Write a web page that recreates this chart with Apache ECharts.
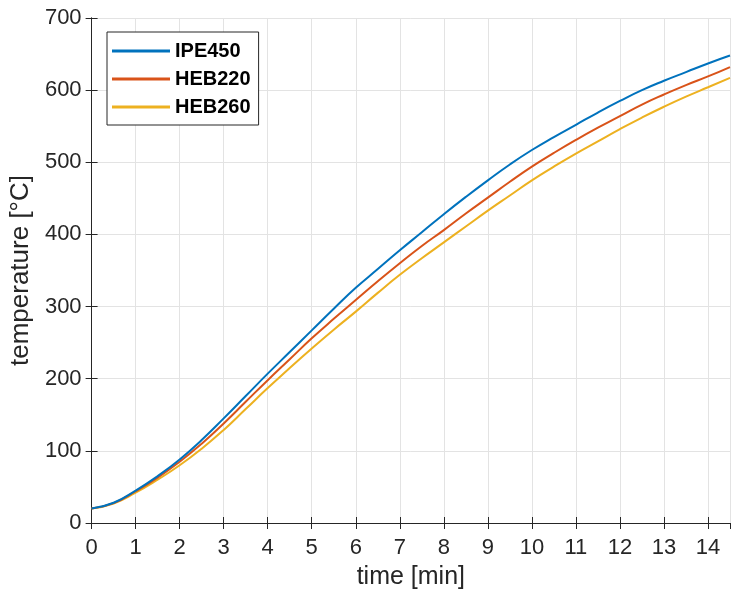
<!DOCTYPE html>
<html>
<head>
<meta charset="utf-8">
<script src="https://cdn.jsdelivr.net/npm/echarts@6/dist/echarts.min.js"></script>
<style>
html,body{margin:0;padding:0;background:#fff;}
#c{width:731px;height:595px;}
</style>
</head>
<body>
<div id="c"></div>
<script>
var times = [0,0.5,1,1.5,2,2.5,3,3.5,4,4.5,5,5.5,6,6.5,7,7.5,8,8.5,9,9.5,10,10.5,11,11.5,12,12.5,13,13.5,14,14.5];
var ipe450 = [20,28,45,65,88,115,145,176,207,237,267,297,326,352,378,403,428,452,475,497,517,535,552,569,585,600,613,625,637,648];
var heb220 = [20,27.5,44,63,85,110,138,168,198,227,256,283,309,335,360,384,406,429,451,473,494,513,531,548,564,580,594,607,619,632];
var heb260 = [20,27,42,60,80,103,129,158,187,215,242,268,293,319,344,367,389,411,433,454,475,494,512,529,546,562,577,591,604,617];
var seriesNames = ['IPE450','HEB220','HEB260'];
var seriesColors = ['#0072BD','#D95319','#EDB120'];

function pairs(v){ return times.map(function(t,i){ return [t, v[i]]; }); }

var txt = '#262626';
var font = '"Liberation Sans", Arial, sans-serif';
var chart = echarts.init(document.getElementById('c'), null, {renderer:'canvas'});
var axisLine = {show:true, lineStyle:{color:txt, width:1}};
var axisTick = {show:true, inside:true, length:6, lineStyle:{color:txt}};
chart.setOption({
  animation:false,
  backgroundColor:'#fff',
  grid:{left:90, top:18, right:1, bottom:72, containLabel:false},
  legend:{
    orient:'vertical', left:107, top:32,
    data:seriesNames,
    backgroundColor:'#fff', borderColor:txt, borderWidth:1, borderRadius:0,
    padding:[9,8,8,5], itemGap:8, itemWidth:58, itemHeight:3, icon:'rect',
    textStyle:{fontFamily:font, fontSize:20, fontWeight:'bold', color:'#000', lineHeight:20}
  },
  xAxis:[{
    type:'value', min:0, max:14.5, interval:1,
    name:'time [min]', nameLocation:'middle', nameGap:42,
    nameTextStyle:{fontFamily:font, fontSize:25, color:txt},
    axisLabel:{fontFamily:font, fontSize:22, color:txt, margin:14, showMaxLabel:false},
    splitLine:{show:true, lineStyle:{color:'#e3e3e3', width:1}},
    axisLine:axisLine, axisTick:axisTick
  },{
    type:'value', position:'top', min:0, max:14.5, interval:1,
    axisLabel:{show:false}, splitLine:{show:false},
    axisLine:axisLine, axisTick:axisTick
  }],
  yAxis:[{
    type:'value', min:0, max:700, interval:100,
    name:'temperature [°C]', nameLocation:'middle', nameGap:51,
    nameTextStyle:{fontFamily:font, fontSize:26, color:txt},
    axisLabel:{fontFamily:font, fontSize:22, color:txt, margin:10},
    splitLine:{show:true, lineStyle:{color:'#e3e3e3', width:1}},
    axisLine:axisLine, axisTick:axisTick
  },{
    type:'value', position:'right', min:0, max:700, interval:100,
    axisLabel:{show:false}, splitLine:{show:false},
    axisLine:axisLine, axisTick:axisTick
  }],
  series:[ipe450, heb220, heb260].map(function(v,i){
    return {
      name:seriesNames[i], type:'line', data:pairs(v), smooth:0.5,
      showSymbol:false, symbol:'none',
      lineStyle:{color:seriesColors[i], width:2}, itemStyle:{color:seriesColors[i]},
      z:3-i
    };
  })
});
</script>
</body>
</html>
